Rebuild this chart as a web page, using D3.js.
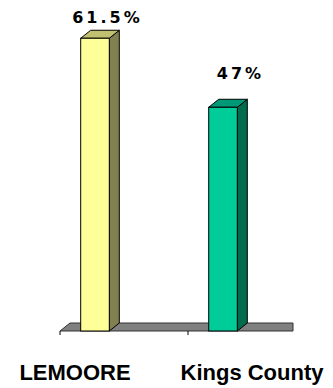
<!DOCTYPE html>
<html>
<head>
<meta charset="utf-8">
<script src="https://cdn.jsdelivr.net/npm/d3@7"></script>
<style>
  body { margin: 0; background: #fff; }
  svg { display: block; }
</style>
</head>
<body>
<script>

var categories = ["LEMOORE", "Kings County"];
var values = [61.5, 47];
var valueLabels = ["61.5%", "47%"];

var frontColors = ["#FFFF99", "#00CC99"],
    topColors = ["#C0C070", "#009977"],
    sideColors = ["#808050", "#006B4D"];

var width = 333, height = 388;
var depthX = 10, depthY = 8;   // 3d offset
var floorY = 331, floorRight = 293;

var x = d3.scaleBand().domain(categories).range([60, 316]);
var xLabel = d3.scalePoint().domain(categories).range([75, 252]);
var xValue = d3.scalePoint().domain(categories).range([106, 239]);
var y = d3.scaleLinear().domain([0, 60]).range([floorY, floorY - 60 * 4.76]);
// value labels sit on their own scale (they don't follow bar tops exactly)
var yValue = d3.scaleLinear().domain([47, 61.5]).range([79, 23]);

var barOffset = 20.7, barWidth = 28.6;

var svg = d3.select("body").append("svg")
    .attr("width", width)
    .attr("height", height);

// floor
svg.append("path")
    .attr("d", "M60," + floorY + "L" + (60 + depthX) + "," + (floorY - depthY) +
               "L" + floorRight + "," + (floorY - depthY) + "L" + floorRight + "," + floorY + "Z")
    .style("fill", "#808080")
    .style("stroke", "#333")
    .style("stroke-width", 1);

// category ticks
svg.selectAll(".tick")
    .data([60, 188])
  .enter().append("line")
    .attr("x1", function(d) { return d; })
    .attr("x2", function(d) { return d; })
    .attr("y1", floorY)
    .attr("y2", floorY + 4)
    .style("stroke", "#000");

var bars = svg.selectAll(".bar")
    .data(values)
  .enter().append("g")
    .attr("class", "bar");

function bx(i) { return x(categories[i]) + barOffset; }

// side face
bars.append("path")
    .attr("d", function(d, i) {
      var x0 = bx(i) + barWidth, y0 = y(d);
      return "M" + x0 + "," + y0 + "L" + (x0 + depthX) + "," + (y0 - depthY) +
             "L" + (x0 + depthX) + "," + (floorY - depthY) + "L" + x0 + "," + floorY + "Z";
    })
    .style("fill", function(d, i) { return sideColors[i]; })
    .style("stroke", "#000")
    .style("stroke-width", 1)
    .style("stroke-linejoin", "round");

// top face
bars.append("path")
    .attr("d", function(d, i) {
      var x0 = bx(i), y0 = y(d);
      return "M" + x0 + "," + y0 + "L" + (x0 + depthX) + "," + (y0 - depthY) +
             "L" + (x0 + barWidth + depthX) + "," + (y0 - depthY) + "L" + (x0 + barWidth) + "," + y0 + "Z";
    })
    .style("fill", function(d, i) { return topColors[i]; })
    .style("stroke", "#000")
    .style("stroke-width", 1)
    .style("stroke-linejoin", "round");

// front face
bars.append("rect")
    .attr("x", function(d, i) { return bx(i); })
    .attr("y", function(d) { return y(d); })
    .attr("width", barWidth)
    .attr("height", function(d) { return floorY - y(d); })
    .style("fill", function(d, i) { return frontColors[i]; })
    .style("stroke", "#000")
    .style("stroke-width", 1);

// value labels
bars.append("text")
    .attr("x", function(d, i) { return xValue(categories[i]) + 1.5; })
    .attr("y", function(d) { return yValue(d); })
    .attr("text-anchor", "middle")
    .style("font-family", "DejaVu Sans")
    .style("font-weight", "bold")
    .style("font-size", "16px")
    .style("letter-spacing", "3px")
    .text(function(d, i) { return valueLabels[i]; });

// category labels
svg.selectAll(".cat")
    .data(categories)
  .enter().append("text")
    .attr("class", "cat")
    .attr("x", function(d) { return xLabel(d); })
    .attr("y", 380)
    .attr("text-anchor", "middle")
    .style("font-family", "Liberation Sans")
    .style("font-weight", "bold")
    .style("font-size", "22px")
    .text(function(d) { return d; });

</script>
</body>
</html>
